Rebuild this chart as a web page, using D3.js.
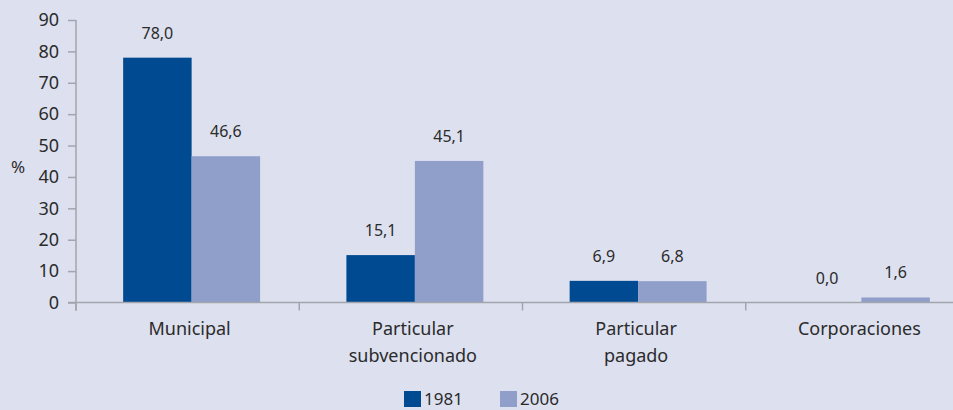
<!DOCTYPE html>
<html>
<head>
<meta charset="utf-8">
<script src="https://cdn.jsdelivr.net/npm/d3@7"></script>
<style>
  html, body { margin: 0; padding: 0; background: #dde0ef; }
  svg { display: block; font-family: "Noto Sans", sans-serif; }
</style>
</head>
<body>
<script>
// data
const categories = ["Municipal", "Particular subvencionado", "Particular pagado", "Corporaciones"];
const categoryLines = [["Municipal"], ["Particular", "subvencionado"], ["Particular", "pagado"], ["Corporaciones"]];
const years = ["1981", "2006"];
const values1981 = [78.0, 15.1, 6.9, 0.0];
const values2006 = [46.6, 45.1, 6.8, 1.6];
const yTicks = [0, 10, 20, 30, 40, 50, 60, 70, 80, 90];

const width = 953, height = 410;
const colors = { "1981": "#004a91", "2006": "#8f9fca" };
const axisColor = "#a3a5ad";
const textColor = "#2b2b2b";

const rows = categories.map((c, i) => ({
  cat: c,
  lines: categoryLines[i],
  vals: [{ year: "1981", v: values1981[i] }, { year: "2006", v: values2006[i] }]
}));

const svg = d3.select("body").append("svg")
  .attr("width", width)
  .attr("height", height);

svg.append("rect").attr("width", width).attr("height", height).attr("fill", "#dde0ef");

// scales
const x = d3.scaleBand().domain(categories).range([76, 969]).padding(0);
const xInner = d3.scaleBand().domain(years).range([4, x.bandwidth() + 4]).paddingInner(0).paddingOuter(0.63);
const y = d3.scaleLinear().domain([0, 90]).range([302.5, 20]);

// y axis
const yAxis = svg.append("g")
  .attr("transform", "translate(76,0)")
  .call(d3.axisLeft(y).tickValues(yTicks).tickSize(8).tickPadding(9).tickFormat(d3.format("d")));
yAxis.select(".domain").attr("stroke", axisColor).attr("stroke-width", 1.5)
  .attr("d", `M0,${y(90)}V${y(0) + 8}`);
yAxis.selectAll(".tick line").attr("stroke", axisColor).attr("stroke-width", 1.5);
yAxis.selectAll(".tick text")
  .attr("fill", textColor)
  .style("font-size", "18px")
  .style("font-family", "'Noto Sans', sans-serif");

// % label
svg.append("text")
  .attr("x", 18).attr("y", 173)
  .attr("text-anchor", "middle")
  .attr("fill", textColor)
  .style("font-size", "17px")
  .text("%");

// bars
const groups = svg.selectAll("g.cat")
  .data(rows)
  .enter().append("g")
  .attr("class", "cat")
  .attr("transform", d => `translate(${x(d.cat)},0)`);

groups.selectAll("rect")
  .data(d => d.vals)
  .enter().append("rect")
  .attr("x", d => xInner(d.year))
  .attr("y", d => y(d.v))
  .attr("width", xInner.bandwidth())
  .attr("height", d => y(0) - y(d.v))
  .attr("fill", d => colors[d.year]);

groups.selectAll("text.val")
  .data(d => d.vals)
  .enter().append("text")
  .attr("class", "val")
  .attr("x", d => xInner(d.year) + xInner.bandwidth() / 2)
  .attr("y", d => y(d.v) - 19)
  .attr("text-anchor", "middle")
  .attr("fill", textColor)
  .style("font-size", "16px")
  .text(d => d3.format(".1f")(d.v).replace(".", ","));

// x axis
svg.append("line")
  .attr("x1", 68).attr("x2", width)
  .attr("y1", y(0)).attr("y2", y(0))
  .attr("stroke", axisColor).attr("stroke-width", 1.5);

svg.selectAll("line.xtick")
  .data(categories)
  .enter().append("line")
  .attr("class", "xtick")
  .attr("x1", d => x(d)).attr("x2", d => x(d))
  .attr("y1", y(0)).attr("y2", y(0) + 8)
  .attr("stroke", axisColor).attr("stroke-width", 1.5);

const catLabels = svg.selectAll("text.cat")
  .data(rows)
  .enter().append("text")
  .attr("class", "cat")
  .attr("text-anchor", "middle")
  .attr("fill", textColor)
  .style("font-size", "18px");

catLabels.selectAll("tspan")
  .data(d => d.lines.map(l => ({ l, cx: x(d.cat) + x.bandwidth() / 2 + 2 })))
  .enter().append("tspan")
  .attr("x", d => d.cx)
  .attr("y", (d, i) => 335 + i * 27)
  .text(d => d.l);

// legend (sits right at the bottom edge, as in the original)
const legendX = [404, 500];
const legend = svg.selectAll("g.legend")
  .data(years)
  .enter().append("g")
  .attr("class", "legend")
  .attr("transform", (d, i) => `translate(${legendX[i]},391)`);

legend.append("rect")
  .attr("width", 17).attr("height", 16)
  .attr("fill", d => colors[d]);

legend.append("text")
  .attr("x", 20).attr("y", 14)
  .attr("fill", textColor)
  .style("font-size", "17px")
  .text(d => d);
</script>
</body>
</html>
